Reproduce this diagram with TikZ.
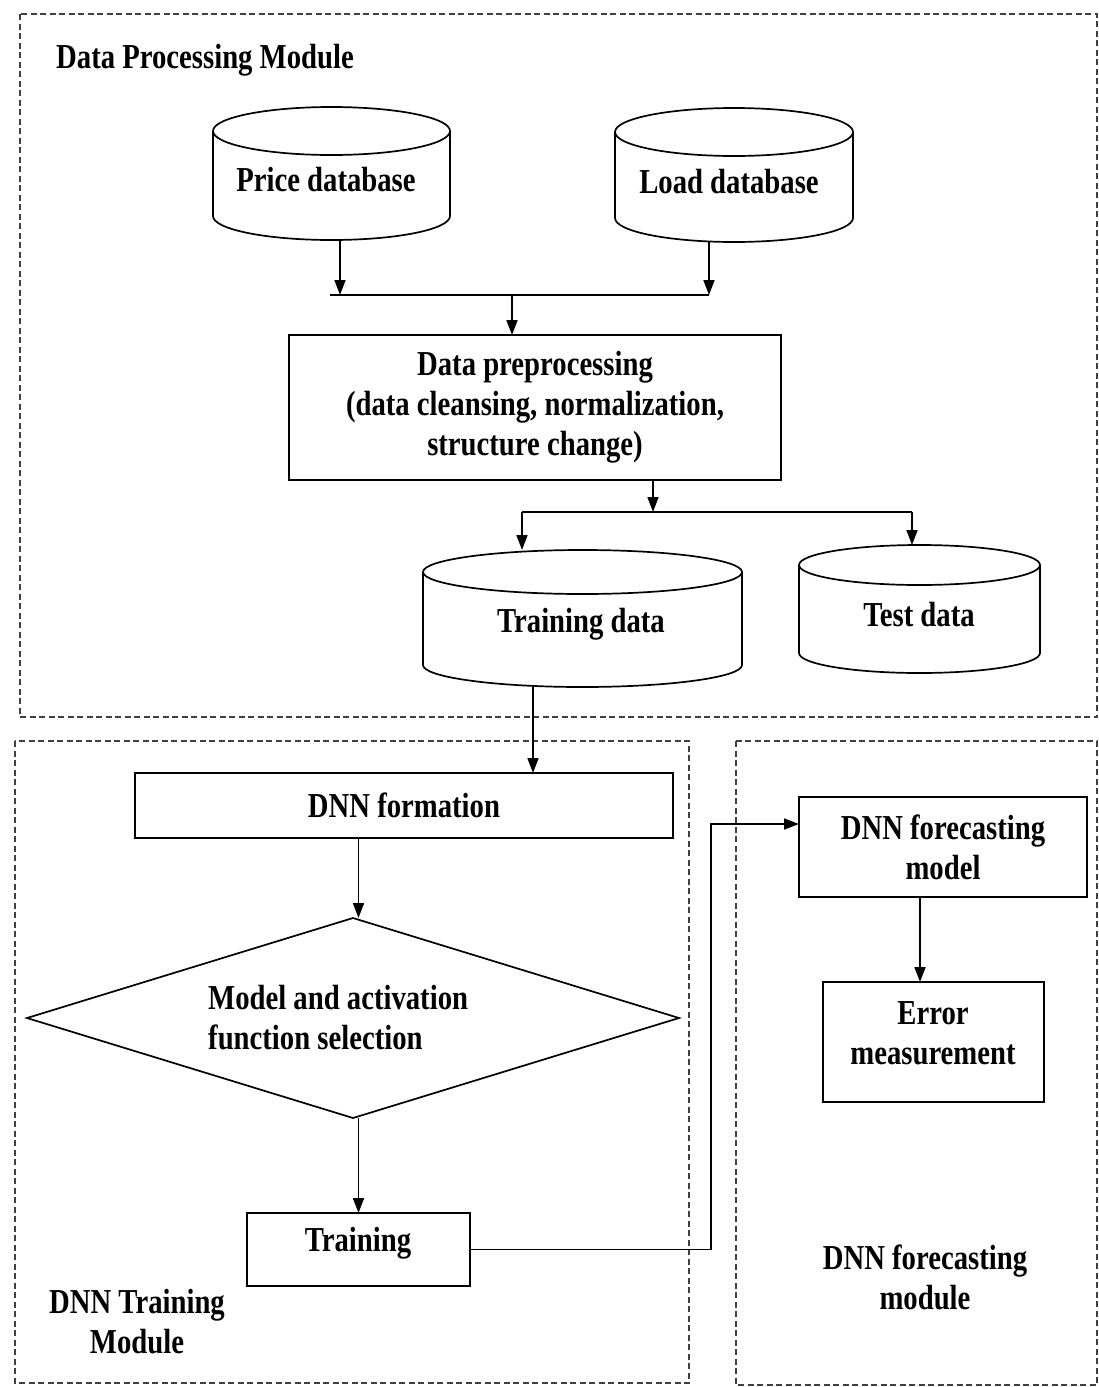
\documentclass[tikz,border=0pt]{standalone}
\usepackage{fontspec}
\setmainfont{Liberation Serif}[FakeStretch=0.82]
\usetikzlibrary{arrows.meta,shapes.geometric,calc}
\tikzset{
  ln/.style={line width=1.7pt, draw=black},
  arr/.style={ln, -{Triangle[length=15pt,width=11pt]}},
  frame/.style={draw=black!75, line width=1.4pt, dash pattern=on 6pt off 3.5pt},
  box/.style={ln, rectangle, inner sep=0pt, outer sep=0pt, align=center},
  cylbox/.style={rectangle, inner sep=0pt, outer sep=0pt},
  txt/.style={align=center, inner sep=0pt},
}
\newcommand\drawcyl[2]{%
  \draw[ln] let \p1=(#1.north west), \p2=(#1.south east), \n1={(\x2-\x1)/2} in
    ({(\x1+\x2)/2},{\y1-#2}) ellipse [x radius=\n1, y radius=#2]
    (\x1,{\y1-#2}) -- (\x1,{\y2+#2})
    arc [start angle=180, end angle=360, x radius=\n1, y radius=#2]
    -- (\x2,{\y1-#2});
}
\begin{document}
\begin{tikzpicture}[x=1pt,y=1pt,font=\bfseries\fontsize{35}{40}\selectfont]
\useasboundingbox (0,0) rectangle (1099,-1387);
\fill[white] (0,0) rectangle (1099,-1387);

% module frames
\draw[frame] (20,-14) rectangle (1097,-717);
\draw[frame] (15,-741) rectangle (689,-1383);
\draw[frame] (736,-741) rectangle (1097,-1385);

\node[txt] (dpmlabel) at (205,-60) {Data Processing Module};
\node[txt] (dtmlabel) at (137,-1322) {DNN Training\\Module};
\node[txt] (dfmlabel) at (925,-1277) {DNN forecasting\\module};

% databases
\node[cylbox, minimum width=237pt, minimum height=133pt] (pricedb) at (331.5,-173.5) {};
\drawcyl{pricedb}{24pt}
\node[txt] (pricedbt) at (326,-180) {Price database};

\node[cylbox, minimum width=238pt, minimum height=134pt] (loaddb) at (734,-175) {};
\drawcyl{loaddb}{24pt}
\node[txt] (loaddbt) at (729,-182) {Load database};

\node[cylbox, minimum width=319pt, minimum height=137pt] (traindb) at (582.5,-618.5) {};
\drawcyl{traindb}{22pt}
\node[txt] (traindbt) at (581,-624) {Training data};

\node[cylbox, minimum width=241pt, minimum height=128pt] (testdb) at (919.5,-609) {};
\drawcyl{testdb}{20pt}
\node[txt] (testdbt) at (919,-615) {Test data};

% boxes
\node[box, minimum width=492pt, minimum height=145pt] (prep) at (535,-407.5)
  {Data preprocessing\\(data cleansing, normalization,\\structure change)};
\node[box, minimum width=538pt, minimum height=65pt] (dnnf) at (404,-805.5) {DNN formation};
\node[ln, diamond, inner sep=0pt, outer sep=0pt, minimum width=652pt, minimum height=200pt] (sel) at (353,-1018) {};
\node[txt, align=left, anchor=west] (selt) at (208,-1018) {Model and activation\\function selection};
\node[box, minimum width=223pt, minimum height=73pt] (train) at (358.5,-1249.5) {};
\node[txt] (traint) at (358,-1243) {Training};
\node[box, minimum width=288pt, minimum height=100pt] (fcm) at (943,-847) {DNN forecasting\\model};
\node[box, minimum width=221pt, minimum height=120pt] (err) at (933.5,-1042) {};
\node[txt] (errt) at (933,-1033) {Error\\measurement};

% junction coordinates
\coordinate (busL) at (330,-295);
\coordinate (busP) at (340,-295);
\coordinate (busR) at (709,-295);
\coordinate (busM) at (512,-295);
\coordinate (bus2M) at (653,-512);
\coordinate (bus2L) at (522,-512);
\coordinate (bus2R) at (912,-512);
\coordinate (tdx) at (533,-700);
\coordinate (dnx) at (358.5,-900);
\coordinate (turn) at (711,-824);
\coordinate (fcx) at (920,-940);

% connectors
\draw[arr] (pricedb.south -| busP) -- (busP);
\draw[arr] (loaddb.south -| busR) -- (busR);
\draw[ln] (busL) -- (busR);
\draw[arr] (busM) -- (prep.north -| busM);
\draw[arr] (prep.south -| bus2M) -- (bus2M);
\draw[ln] (bus2L) -- (bus2R);
\draw[arr] (bus2L) -- (traindb.north -| bus2L);
\draw[arr] (bus2R) -- (testdb.north -| bus2R);
\draw[arr] (traindb.south -| tdx) -- (dnnf.north -| tdx);
\draw[arr] (dnnf.south -| dnx) -- (sel.north -| dnx);
\draw[arr] (sel.south -| train.north) -- (train.north);
\draw[arr] (train.east) -| (turn) -- (fcm.west |- turn);
\draw[arr] (fcm.south -| fcx) -- (err.north -| fcx);
\end{tikzpicture}
\end{document}
